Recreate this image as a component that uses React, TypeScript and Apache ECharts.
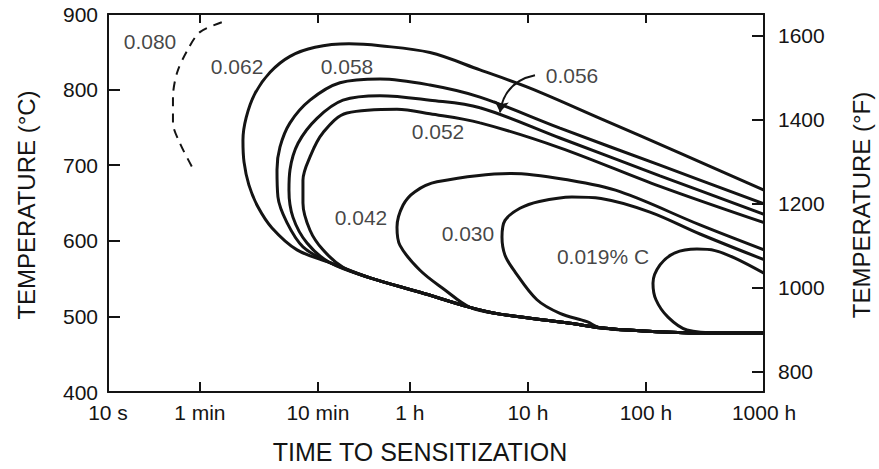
import { useEffect, useRef } from "react";
import * as echarts from "echarts";

// ---- axis ticks ----
const TICK_SECONDS = [10, 60, 600, 3600, 36000, 360000, 3600000];
const TICK_LABELS = ["10 s", "1 min", "10 min", "1 h", "10 h", "100 h", "1000 h"];
const C_MIN = 400;
const C_MAX = 900;
const F_TICKS = [800, 1000, 1200, 1400, 1600];

// ---- curves: [time (s), temperature (°C)] ----
const curve080: [number, number][] = [
  [92, 889], [60, 876], [47, 852], [38.4, 822], [35.5, 790], [35.5, 756], [40.7, 729], [51.4, 698],
];
const bottomEnvelope: [number, number][] = [
  [759, 571], [1656, 551], [4390, 532], [11640, 512], [20900, 503], [81840, 491],
  [146900, 485], [320500, 481], [1033000, 478], [3600000, 478],
];
const curve062: [number, number][] = [
  [3600000, 667], [699200, 716], [146900, 762], [37510, 802], [14150, 826], [5337, 849],
  [2013, 858], [1100, 860.5], [567, 856], [348, 844], [236, 823], [176, 795], [148, 763],
  [139, 733], [142, 704], [156, 674], [186, 645], [245, 617], [399, 588],
];
const curve058: [number, number][] = [
  [3600000, 649], [473400, 700], [67330, 749], [14150, 790], [5337, 806], [2013, 814],
  [922, 809], [514, 786], [348, 756], [286, 724], [270, 694], [275, 658], [328, 624], [448, 592],
];
const curve056: [number, number][] = [
  [3600000, 635], [473400, 686], [67330, 736], [14150, 776], [5337, 786], [2013, 792],
  [978, 786], [589, 762], [407, 729], [348, 694], [341, 667], [369, 631], [485, 597],
];
const curve052: [number, number][] = [
  [3600000, 624], [473400, 672], [67330, 723], [14150, 756], [5337, 768], [2804, 774],
  [1057, 769], [662, 743], [514, 711], [448, 680], [448, 650], [514, 614], [662, 588], [978, 565],
];
const curve042: [number, number][] = [
  [3600000, 588], [1033000, 621], [217000, 665], [81840, 680], [26000, 689], [6115, 678],
  [3983, 665], [3151, 647], [2804, 618], [2972, 594], [4390, 561], [7149, 535],
];
const curve030: [number, number][] = [
  [3600000, 575], [1033000, 609], [389500, 638], [150000, 656], [85000, 658], [45000, 652],
  [30850, 643], [23040, 627], [21730, 605], [23040, 581], [28000, 559], [42990, 522],
  [67330, 504], [114000, 493],
];
const curve019: [number, number][] = [
  [3600000, 557], [2044000, 577], [1384000, 587], [974100, 589], [634300, 584], [473400, 568],
  [413000, 544], [437900, 522], [553500, 499], [801600, 482], [1526000, 478],
];
// index in bottomEnvelope where each curve's lower branch joins it
const JOIN_062 = 0;
const JOIN_058 = 0;
const JOIN_056 = 0;
const JOIN_052 = 1;
const JOIN_042 = 3;
const JOIN_030 = 6;
const JOIN_019 = 9;

// ---- annotations ----
const LABEL_TEXTS = ["0.080", "0.062", "0.058", "0.056", "0.052", "0.042", "0.030", "0.019% C"];
const LABEL_TIMES = [22.7, 124, 1057, 85100, 6237, 1389, 11190, 155800];
const LABEL_TEMPS = [863, 831, 830, 818, 745, 631, 609, 579];
const ARROW_056: [number, number][] = [[41360, 819], [20900, 770]];

const L = (s: number) => Math.log10(s);
const toXY = (pts: [number, number][]) => pts.map(([s, t]) => [L(s), t]);
const FONT = "Liberation Sans";
const INK = "#141414";

function App() {
  const ref = useRef<HTMLDivElement>(null);
  useEffect(() => {
    if (!ref.current) return;
    const chart = echarts.init(ref.current, undefined, { renderer: "svg" });
    const xMin = L(TICK_SECONDS[0]);
    const xMax = L(TICK_SECONDS[TICK_SECONDS.length - 1]);
    const tickLogs = TICK_SECONDS.map(L);
    const fmtX = (v: number) => {
      let best = 0;
      tickLogs.forEach((t, i) => {
        if (Math.abs(t - v) < Math.abs(tickLogs[best] - v)) best = i;
      });
      return TICK_LABELS[best];
    };
    const solid = (pts: [number, number][], join: number) => ({
      type: "line",
      data: toXY([...pts, ...bottomEnvelope.slice(join)]),
      showSymbol: false,
      symbol: "none",
      smooth: 0.35,
      lineStyle: { color: INK, width: 3 },
      silent: true,
    });
    const axisLineStyle = { lineStyle: { color: INK, width: 2 } };
    chart.setOption({
      animation: false,
      backgroundColor: "#fff",
      grid: { left: 108, right: 115, top: 14, bottom: 77 },
      xAxis: [
        {
          type: "value",
          min: xMin,
          max: xMax,
          position: "bottom",
          axisLine: { show: true, onZero: false, ...axisLineStyle },
          axisTick: { show: true, inside: true, length: 10, customValues: tickLogs, lineStyle: { color: INK, width: 2 } },
          axisLabel: {
            show: true,
            customValues: tickLogs,
            formatter: fmtX,
            color: INK,
            fontFamily: FONT,
            fontSize: 21,
            margin: 10,
          },
          splitLine: { show: false },
        },
        {
          type: "value",
          min: xMin,
          max: xMax,
          position: "top",
          axisLine: { show: true, onZero: false, ...axisLineStyle },
          axisTick: { show: true, inside: true, length: 9, customValues: tickLogs, lineStyle: { color: INK, width: 2 } },
          axisLabel: { show: false },
          splitLine: { show: false },
        },
      ],
      yAxis: [
        {
          type: "value",
          min: C_MIN,
          max: C_MAX,
          interval: 100,
          position: "left",
          axisLine: { show: true, onZero: false, ...axisLineStyle },
          axisTick: { show: true, inside: true, length: 12, lineStyle: { color: INK, width: 2 } },
          axisLabel: { color: INK, fontFamily: FONT, fontSize: 21, margin: 10 },
          splitLine: { show: false },
        },
        {
          type: "value",
          min: (C_MIN * 9) / 5 + 32,
          max: (C_MAX * 9) / 5 + 32,
          position: "right",
          axisLine: { show: true, onZero: false, ...axisLineStyle },
          axisTick: { show: true, inside: true, length: 12, customValues: F_TICKS, lineStyle: { color: INK, width: 2 } },
          axisLabel: {
            customValues: F_TICKS,
            formatter: (v: number) => String(Math.round(v)),
            color: INK,
            fontFamily: FONT,
            fontSize: 21,
            margin: 14,
          },
          splitLine: { show: false },
        },
      ],
      series: [
        {
          type: "line",
          data: toXY(curve080),
          showSymbol: false,
          symbol: "none",
          smooth: 0.3,
          lineStyle: { color: INK, width: 2, type: [9, 7] },
          silent: true,
        },
        solid(curve062, JOIN_062),
        solid(curve058, JOIN_058),
        solid(curve056, JOIN_056),
        solid(curve052, JOIN_052),
        solid(curve042, JOIN_042),
        solid(curve030, JOIN_030),
        solid(curve019, JOIN_019),
        {
          type: "lines",
          coordinateSystem: "cartesian2d",
          data: [{ coords: toXY(ARROW_056) }],
          symbol: ["none", "arrow"],
          symbolSize: 11,
          lineStyle: { color: INK, width: 2, curveness: -0.35, opacity: 1 },
          silent: true,
        },
        {
          type: "scatter",
          symbolSize: 0,
          silent: true,
          data: LABEL_TEXTS.map((t, i) => ({ name: t, value: [L(LABEL_TIMES[i]), LABEL_TEMPS[i]] })),
          label: {
            show: true,
            position: "inside",
            formatter: (p: any) => p.name,
            color: INK,
            fontFamily: FONT,
            fontSize: 21,
          },
        },
      ],
      graphic: [
        {
          type: "text",
          x: 26,
          y: 205,
          rotation: Math.PI / 2,
          style: {
            text: "TEMPERATURE (°C)",
            font: `24px "${FONT}"`,
            fill: INK,
            textAlign: "center",
            textVerticalAlign: "middle",
          },
        },
        {
          type: "text",
          x: 861,
          y: 205,
          rotation: Math.PI / 2,
          style: {
            text: "TEMPERATURE (°F)",
            font: `24px "${FONT}"`,
            fill: INK,
            textAlign: "center",
            textVerticalAlign: "middle",
          },
        },
        {
          type: "text",
          x: 420,
          y: 452,
          style: {
            text: "TIME TO SENSITIZATION",
            font: `25px "${FONT}"`,
            fill: INK,
            textAlign: "center",
            textVerticalAlign: "middle",
          },
        },
      ],
    });
    return () => chart.dispose();
  }, []);
  return (
    <div
      ref={ref}
      style={{ position: "fixed", left: 0, top: 0, width: 879, height: 469, background: "#fff" }}
    />
  );
}

export default App;
